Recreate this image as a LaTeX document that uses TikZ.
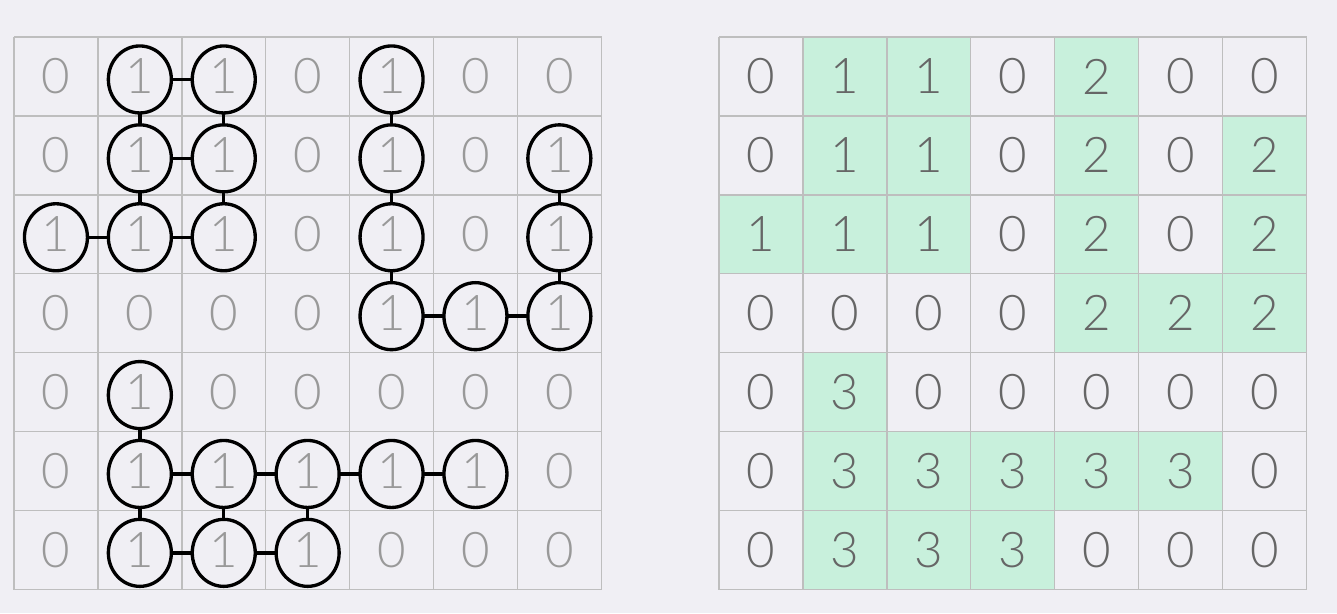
\documentclass[tikz,border=0pt]{standalone}
\usepackage{fontspec}
\newfontfamily\digitfont{Lato Light}
\usetikzlibrary{positioning}
\definecolor{bgcol}{HTML}{F0EFF4}
\definecolor{gridcol}{HTML}{BEBEBE}
\definecolor{leftdigit}{HTML}{999999}
\definecolor{rightdigit}{HTML}{666666}
\definecolor{islandgreen}{HTML}{C8F0DC}
\tikzset{
  cell/.style={minimum width=1.678cm, minimum height=1.578cm, inner sep=0pt,
    font=\digitfont\fontsize{28}{28}\selectfont},
  ring/.style={ellipse, draw=black, line width=1.9pt, minimum width=1.26cm, minimum height=1.34cm, inner sep=0pt},
  stroke/.style={line width=1.9pt, line cap=round}
}
\usetikzlibrary{shapes.geometric}
\begin{document}
\begin{tikzpicture}
      \fill[bgcol] (0,0) rectangle (26.74,-12.26);
      \useasboundingbox (0,0) rectangle (26.74,-12.26);

      \foreach \r/\vals in {0/{0,1,1,0,2,0,0}, 1/{0,1,1,0,2,0,2}, 2/{1,1,1,0,2,0,2},
          3/{0,0,0,0,2,2,2}, 4/{0,3,0,0,0,0,0}, 5/{0,3,3,3,3,3,0}, 6/{0,3,3,3,0,0,0}} {
        \foreach \v [count=\c from 0] in \vals {
          \ifnum\v>0 \def\fillc{islandgreen}\def\leftv{1}\else \def\fillc{bgcol}\def\leftv{0}\fi
          \node[cell, text=leftdigit] (L\r\c) at ({0.28+1.678*(\c+0.5)}, {-0.74-1.578*(\r+0.5)}) {\leftv};
          \node[cell, text=rightdigit, fill=\fillc] (R\r\c) at ({14.38+1.678*(\c+0.5)}, {-0.74-1.578*(\r+0.5)}) {\v};
          \ifnum\v>0 \node[ring] (C\r\c) at ([yshift=-0.06cm]L\r\c) {}; \fi
        }
      }

      \foreach \gx in {0.28, 14.38} {
        \draw[gridcol, line width=0.8pt, shift={(\gx,-0.74)}]
          (0,0) grid[xstep=1.678, ystep=1.578] (11.75,-11.05);
      }

      \foreach \a/\b in {01/02, 01/11, 02/12, 11/12, 11/21, 12/22, 20/21, 21/22,
          04/14, 14/24, 24/34, 34/35, 35/36, 36/26, 26/16,
          41/51, 51/52, 52/53, 53/54, 54/55, 51/61, 52/62, 53/63, 61/62, 62/63}
        \draw[stroke] (C\a) -- (C\b);
\end{tikzpicture}
\end{document}
